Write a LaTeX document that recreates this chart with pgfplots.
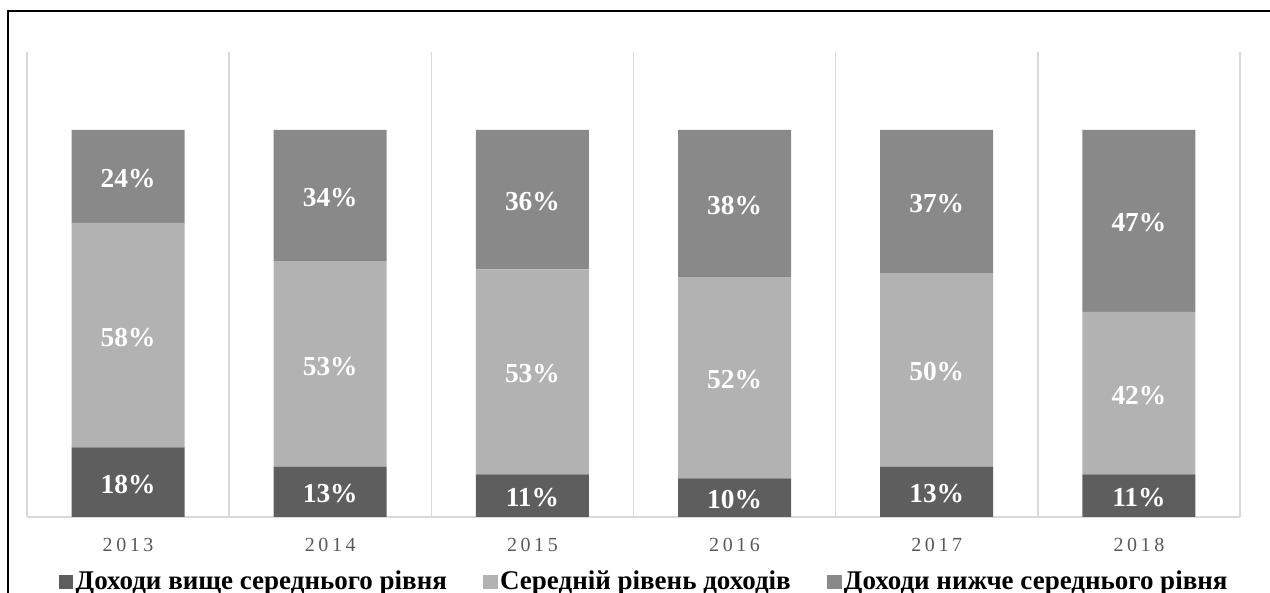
\documentclass[border=0pt]{standalone}
\usepackage{pgfplots}
\usepackage{pgfplotstable}
\pgfplotsset{compat=1.18}
\usepackage{fontspec}
\setmainfont{Liberation Serif}
\newfontfamily\yearfont[LetterSpace=18]{Liberation Serif}

\definecolor{cdark}{HTML}{5E5E5E}
\definecolor{clight}{HTML}{B2B2B2}
\definecolor{cmid}{HTML}{898989}
\definecolor{cgrid}{HTML}{D9D9D9}
\definecolor{ctick}{HTML}{595959}

% shares of households by income level, %
\pgfplotstableread{
x  above mid below
0  18    58  24
1  13    53  34
2  11    53  36
3  10    52  38
4  13    50  37
5  11    42  47
}\shares

\begin{document}
\begin{tikzpicture}
\useasboundingbox (0,0) rectangle (635pt,296.5pt);
\draw[line width=0.9pt] (4pt,-10pt) -- (4pt,290.8pt) -- (645pt,290.8pt);
\begin{axis}[
    at={(13.5pt,38pt)}, anchor=south west,
    scale only axis,
    width=606.5pt, height=232.5pt,
    ybar stacked, bar width=56.5pt,
    xmin=-0.5, xmax=5.5,
    ymin=0, ymax=120.155,
    axis line style={draw=none},
    xtick={0,...,5},
    xticklabels={2013,2014,2015,2016,2017,2018},
    minor xtick={-0.5,0.5,...,5.5},
    xminorgrids,
    ytick={0}, yticklabels={}, ymajorgrids,
    grid style={cgrid, line width=0.8pt},
    minor grid style={cgrid, line width=0.8pt},
    major tick length=0pt, minor tick length=0pt,
    xticklabel style={font=\yearfont\fontsize{10}{12}\selectfont, text=ctick,
        inner sep=0pt, anchor=north, yshift=-10.5pt},
    point meta=explicit,
    nodes near coords={\pgfmathprintnumber[fixed,precision=0,assume math mode=true]{\pgfplotspointmeta}\%},
    nodes near coords align={center},
    every node near coord/.append style={
        font=\bfseries\fontsize{13.7}{15}\selectfont, text=white, anchor=center,
        yshift=-1pt},
    legend style={at={(0.509,-0.14)}, anchor=center, draw=none, fill=none,
        legend columns=3, font=\bfseries\fontsize{13.5}{15}\selectfont,
        nodes={inner xsep=1.2pt, inner ysep=0pt},
        /tikz/every even column/.append style={column sep=17pt}},
    legend image code/.code={\fill[#1] (0pt,-3.5pt) rectangle (7.2pt,3.5pt);},
]
\addplot[fill=cdark, draw=none] table[x=x, y=above, meta=above] {\shares};
\addplot[fill=clight, draw=none] table[x=x, y=mid, meta=mid] {\shares};
\addplot[fill=cmid, draw=none] table[x=x, y=below, meta=below] {\shares};
\legend{Доходи вище середнього рівня, Середній рівень доходів, Доходи нижче середнього рівня}
\end{axis}
\end{tikzpicture}
\end{document}
